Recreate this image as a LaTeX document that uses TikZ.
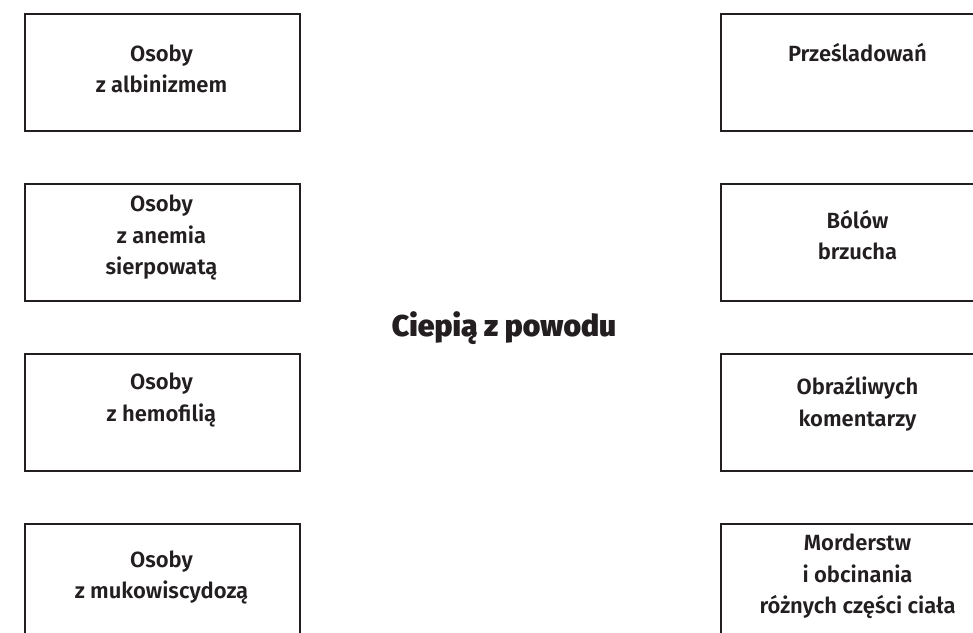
\documentclass[tikz,border=0pt]{standalone}
\usepackage{fontspec}
\setmainfont{Fira Sans}[UprightFont=* SemiBold, BoldFont=* Black]
\definecolor{ink}{HTML}{231F20}
\tikzset{
  cell/.style={draw=ink, line width=1.7pt, minimum width=275pt, minimum height=117pt, inner sep=0pt, anchor=north west},
  celltext/.style={text=ink, align=center, font=\fontsize{22}{31.5}\selectfont},
}

\begin{document}
\begin{tikzpicture}[x=1pt, y=-1pt]
\useasboundingbox (0,0) rectangle (973,632);
\clip (0,0) rectangle (973,632);
%%%%%%%%%%%%%%%%%%%%%%%%%%%%%%%
% left column
%%%%%%%%%%%%%%%%%%%%%%%%%%%%%%%
\node [cell] (sick1) at (24,13) {};
\node [cell] (sick2) at (24,183) {};
\node [cell] (sick3) at (24,353) {};
\node [cell] (sick4) at (24,523) {};
%
\node [celltext] (sick1txt) at (161.5,69) {Osoby\\z albinizmem};
\node [celltext] (sick2txt) at (161.5,237.5) {Osoby\\z anemia\\sierpowatą};
\node [celltext] (sick3txt) at (161.5,400) {Osoby\\z hemofilią};
\node [celltext] (sick4txt) at (161.5,577.5) {Osoby\\z mukowiscydozą};
%%%%%%%%%%%%%%%%%%%%%%%%%%%%%%%
% right column
%%%%%%%%%%%%%%%%%%%%%%%%%%%%%%%
\node [cell] (cause1) at (720,13) {};
\node [cell] (cause2) at (720,183) {};
\node [cell] (cause3) at (720,353) {};
\node [cell] (cause4) at (720,523) {};
%
\node [celltext] (cause1txt) at (857.5,53) {Prześladowań};
\node [celltext] (cause2txt) at (857.5,235) {Bólów\\brzucha};
\node [celltext] (cause3txt) at (857.5,404) {Obraźliwych\\komentarzy};
\node [celltext] (cause4txt) at (857.5,576.5) {Morderstw\\i obcinania\\różnych części ciała};
%%%%%%%%%%%%%%%%%%%%%%%%%%%%%%%
% middle
%%%%%%%%%%%%%%%%%%%%%%%%%%%%%%%
\node [text=ink, font=\bfseries\fontsize{30}{36}\selectfont] (title) at (504,328) {Ciepią z powodu};
\end{tikzpicture}
\end{document}
